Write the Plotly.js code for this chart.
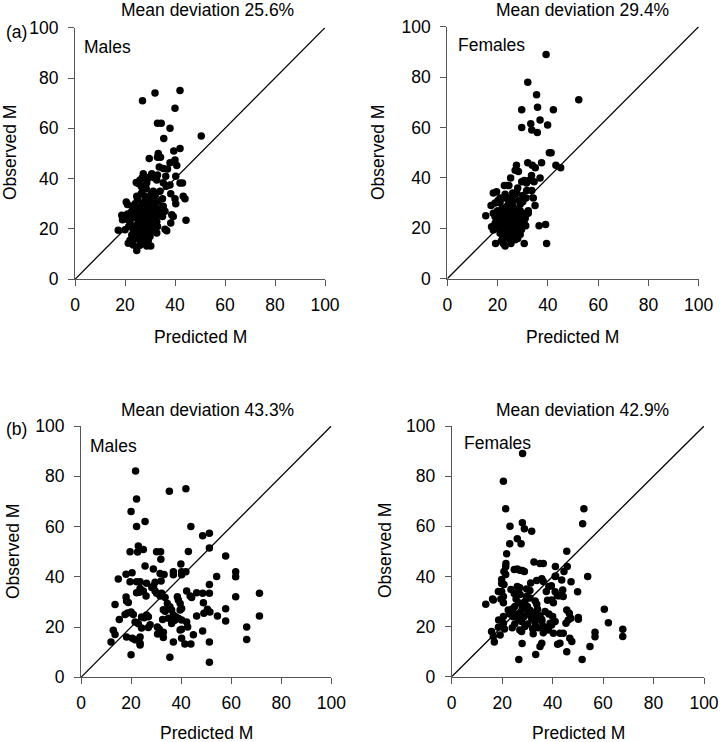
<!DOCTYPE html>
<html>
<head>
<meta charset="utf-8">
<script src="https://cdn.plot.ly/plotly-3.0.1.min.js"></script>
<style>
  html, body { margin: 0; padding: 0; background: #fff; }
  #plot { width: 720px; height: 742px; }
</style>
</head>
<body>
<div id="plot"></div>
<script>
// (a) males: predicted vs observed M
var aMalePred = [27,32,42,40,33,34.5,38,35.5,50.5,42,39.5,33.3,33,34.2,29.7,40,38,40.7,33.7,35.3,37,
  30.7,27.3,30,36.3,40.3,26,25.3,24.5,28.7,32.7,35.3,42,43,38,31.5,33,29,27,26.5,
  38.3,31.3,40,40.3,43.3,44,35,35.3,24.7,25,20.5,21,28,29.7,27,28.5,30.5,32,33.5,32,30.5,26.5,24,23,27,29,31,34,36.5,28,30,26,32.5,
  34,31.3,22.7,18.7,19,26,24,27.3,28.7,29.3,32.3,32.7,38.7,39.3,38.3,44.4,22,24,23.3,26,20,17.3,25,27,28,29,30,31,28.5,30,26.5,25.5,23,21,20.5,24.5,29.5,33.5,35,36,33,27.5,30.5,21.5,25,31.5,29,
  27.3,25.3,32.7,36,36.7,21.3,23.3,24.7,28.7,29.3,30.3,26,22.7,24,28,30,27,25,29,23.5,31,26,22];
var aMaleObs = [71,74,75,68,62,62,60,56,57,52,51,50,48.5,48.5,48,47.4,46.3,45.2,44.6,44,43.8,
  42,42,40.8,41,41,39.5,38.1,38.5,38.4,39.5,38.4,38.3,38.3,37.5,40.5,41.5,40,40.5,37,
  34,35,32,30,33,32,32,29,33,31.7,30.7,29.7,33,30.4,35.5,36,34,33,31,30,28.5,34,30,29,30,29,31.5,35,37,31.5,32.5,28.5,27.5,
  28,26.4,27,25.5,23.7,27.7,25,24.4,23.7,22.4,24.8,23,25.7,25,22.4,23.5,22.4,21,19.7,19.7,19.7,19.5,26,26.5,27,25.5,24,22,21,20,22.5,23.5,24.5,26,24,28,27.5,26,25,27,21,20.5,21.5,21,22,26,26.5,
  18.3,17.6,18.4,19.9,19.3,14.3,13.6,11.4,13.2,15.4,13.2,15.6,17.6,16,16.5,17,14.5,19,18.5,18.5,19,13.5,15.5];

// (a) females
var aFemPred = [39.3,32,35.5,52.3,29.6,35.9,42.2,36.9,33.2,29.6,39.9,33.6,35.8,40.6,41.3,37.5,32,43.2,45.1,27.5,27,28.3,33.8,35,36.9,33.5,30.6,29.6,25.2,22.7,23.9,32.5,34.5,31.5,31.6,33.6,27.6,27,18.3,19.6,20.2,21,22.5,23,25,26,28.6,30,31.3,34.2,34.9,32.2,32.2,17.4,15.3,18.3,19,17.6,18.3,31.2,36.5,39.1,29.5,28.3,19.2,22.3,23,25.3,30.6,39.5,
  20,21,21.5,22,22.5,23,23.5,24,24.5,25,25.5,26,26.5,27,27.5,28,28.5,29,29.5,30,22,21,20.5,23,24,25,26,27,28,26,24,23,22,21.5,25,26.5,27.5,29,24.5,23.5,22.5,20,19.5,24,26,28,30,31,30.5,29,27,25,23,21,19,21,19,26,24.5,28,30];
var aFemObs = [89,78,73,71,67,68,67,63,61.5,60,61,59,58,50,50,46,46,45,44,45,43,42.5,45,44,40,41,39,38.5,40,37,37,39,38.5,38,35,35,34,33.5,34,34.5,31,30,32,33.5,32,31,31,30.5,32,32,29,27,26,29,25,26,24.6,20.6,19.3,21,21,21.5,19.5,19,14,14,13,14,14,14,
  22,24,26,28,25,22,20,18,16,24,27,29,22,20,17,23,25,27,22,24,20,18,20,26.5,29,21,19,15.5,16,17,23,17,16,15,16,25,27.5,29.5,30.5,28,23,27,25,26,23,21,26,24,22.5,17.5,18,18.5,19,21,22,32,30,34,37,36,33];

// (b) males
var bMalePred = [21.8,22.2,20,25.6,22.2,35.3,41.9,43.9,48.6,51.3,51.3,42.9,19.6,22.9,22.6,24.9,30.2,31.8,31.9,25.6,28.9,39.9,54.2,57.8,61.8,61.8,14.9,18,20.4,19.6,22.2,23.6,31.6,33.2,36.9,36.9,40.2,40.2,41.9,26.2,29.6,32,
  13.6,15.3,12.9,13.6,12,18,18.2,18.9,20,20.9,17.6,18.6,18.2,20,20.5,21.6,23.6,23.6,23.6,21.6,22.9,24.2,24.2,22.2,23.3,23.6,24.9,26,26.2,26.9,25.2,27.6,26.9,29.6,30.2,32.2,31.6,33.6,28.3,29,30.5,31.3,30.6,32.9,32.9,32.9,33.6,32.6,34.5,35.5,36.2,36.9,37.8,37.3,34.9,36.2,37.6,38.9,35.5,36.9,38.5,38.9,39.6,40.2,39.6,40.2,40.2,39.6,40.2,42.2,42.6,41.5,43.9,42.2,43.6,44.2,44.9,46.2,46.2,48.6,48.9,49.1,48.6,51.3,51.3,50.5,51.5,51.3,51.3,54.5,57.8,57.8,61.8,66.2,66.2,71.3,71.3];
var bMaleObs = [82.1,71,66,62,60,74,75,60,56.3,57.3,51.5,50.1,50,52.2,49.9,50.9,50,50,47,44.3,43.1,45.1,40.1,48.3,42,40,39.1,41,41.6,38,38,38,41.3,40.9,42,40.8,42,40.8,42,37.4,37.8,38.3,
  29,23,18.7,17,14,32,30.4,29.8,26,25,25,25.6,16,9,15.5,14.9,13.5,12.9,16,22,21.3,24,19.6,33.6,33.8,35.3,34.3,32.4,24.8,24.1,23.7,20.9,19.8,34.3,33.4,33.4,32.4,31.8,35.7,36.3,20,19.1,17.2,17.9,15.8,26.9,26.3,23,29.4,28.1,26.8,24.8,24.1,22.8,23.5,21.4,22.8,23.5,8,14,32.1,30.8,29.4,27.4,26.8,22.8,19.1,18.8,15.5,22,20,13.3,13.3,34.3,32.4,31.8,16.9,33.6,24.4,33.4,29.7,25.5,18.4,36.9,33.4,27.1,26,14,6,24.4,27.3,22.4,32.1,20,15,33.4,24.4];

// (b) females
var bFemPred = [28.1,20.5,21.4,52.4,51.9,23.1,28,28.8,31.7,26,27.5,23,21.8,45.6,53.9,21.5,21.4,24.8,28,28.8,32.6,35,36.3,41.1,44.5,45.8,20.7,21.4,19.8,19.8,20.7,18.5,19.8,20.5,19.5,20.5,23.5,24.8,25.8,27.1,29.7,31,31.3,33.7,35.7,36.3,
  13.5,16.2,16.5,18.6,18.5,19.2,15.8,16.5,16.9,20.5,20.5,20.9,22.4,23.8,24.4,25.8,27.5,28.7,26.4,27.7,27.7,27,27.9,29.7,30.4,31.7,32.1,32.3,33.1,33.7,34,35,35.7,34.3,29.7,31,35.7,36.3,37,36.3,26.6,33.3,35,35.7,39.6,40.3,41,41.9,42.7,39,38.3,40.3,39.6,42.9,44.2,42.9,41,41.2,43.6,44,44.2,45.6,46.6,46.2,45.3,42,45.6,46.8,47.6,50.2,50.2,51.7,54.8,56.8,56.8,60.5,62.1,67.8,67.8,49.9,47.3,47.2,
  24,25,26.5,28,29,30,31,32.5,33,34.5,33,30,29,25,24,23,25.5,27,26,38,37,38.5,40,41,38.5,39.5,37.5,27,26];
var bFemObs = [89,78,67,67,61,60,61.4,59,58,55,53,53,49,50,40,45.2,43.9,42.8,42.4,42,45.8,45.2,45.2,44,42,44,42,40.8,38.8,37.2,36.8,34,34,32,31,29.5,34.8,33.2,33,32.8,35,34.4,37.4,38.4,39.1,38,
  28.9,31,30.6,22.6,19.7,16.6,18,16,13.8,24,21.3,19,26.6,26,23.9,25,26,24,23.3,22,18,18.6,13.2,27.1,25.1,23.1,19.1,17.1,30.2,28.9,26.9,24.3,22.2,19.5,32,31.4,22.8,20.1,19.5,17.5,6.9,8.9,12,13.3,30.6,29.5,33.9,32.3,32.3,21.3,18.6,17.3,20.6,17.3,17.3,13.3,40,40.2,38.6,34.6,32,26.6,25.3,22.6,21.3,12.9,10,15.3,14,22.9,23.6,6.9,12,17.7,15.9,26.9,21.5,18.9,16,33.9,37.9,23.3,
  27,28,29.5,28,30,28,26.5,25.5,24,23,21.5,21,20,21,19.5,25,31,35.5,36,30.5,26,25,24,22,36,36.3,34,42.5,43];

var diag = [0, 100];
var tickVals = [0, 20, 40, 60, 80, 100];

var panels = [
  {px: aMalePred, py: aMaleObs, x: [75, 325], y: [27.7, 279.3]},
  {px: aFemPred, py: aFemObs, x: [447.3, 698.7], y: [26.7, 278.7]},
  {px: bMalePred, py: bMaleObs, x: [81, 331.3], y: [426, 677.3]},
  {px: bFemPred, py: bFemObs, x: [451.7, 704], y: [426, 676.7]}
];

var W = 720, H = 742;
var font = 'Liberation Sans, Arial, sans-serif';
var fs = 17.5;
var data = [];
var layout = {
  width: W, height: H,
  margin: {l: 0, r: 0, t: 0, b: 0},
  paper_bgcolor: '#fff', plot_bgcolor: '#fff',
  showlegend: false,
  font: {family: font, size: fs, color: '#000'},
  annotations: []
};

panels.forEach(function (p, i) {
  var n = i === 0 ? '' : String(i + 1);
  data.push({
    x: p.px, y: p.py, xaxis: 'x' + n, yaxis: 'y' + n,
    type: 'scatter', mode: 'markers', cliponaxis: false,
    marker: {color: '#000', size: 7.5}
  });
  data.push({
    x: diag, y: diag, xaxis: 'x' + n, yaxis: 'y' + n,
    type: 'scatter', mode: 'lines', line: {color: '#000', width: 1.3}
  });
  var ax = {
    range: [0, 100], tickvals: tickVals, showgrid: false, zeroline: false,
    showline: true, linecolor: '#555', linewidth: 1,
    ticks: 'outside', ticklen: 6, tickcolor: '#555',
    tickfont: {family: font, size: fs, color: '#000'}
  };
  layout['xaxis' + n] = Object.assign({}, ax, {
    domain: [p.x[0] / W, p.x[1] / W], anchor: 'y' + n, ticklabelstandoff: 4
  });
  layout['yaxis' + n] = Object.assign({}, ax, {
    domain: [1 - p.y[1] / H, 1 - p.y[0] / H], anchor: 'x' + n, ticklabelstandoff: 6
  });
});

function note(text, x, y, opts) {
  layout.annotations.push(Object.assign({
    text: text, xref: 'paper', yref: 'paper', x: x / W, y: 1 - y / H,
    showarrow: false, xanchor: 'center', yanchor: 'middle',
    font: {family: font, size: fs, color: '#000'}
  }, opts || {}));
}

note('Mean deviation 25.6%', 208, 10);
note('Mean deviation 29.4%', 582, 10);
note('Mean deviation 43.3%', 208, 410);
note('Mean deviation 42.9%', 582, 410);
note('(a)', 4, 32, {xanchor: 'left'});
note('(b)', 4, 429, {xanchor: 'left'});
note('Males', 82, 47, {xanchor: 'left'});
note('Females', 456, 45, {xanchor: 'left'});
note('Males', 88, 446, {xanchor: 'left'});
note('Females', 462, 443, {xanchor: 'left'});
note('Predicted M', 200, 337);
note('Predicted M', 572, 337);
note('Predicted M', 206, 733);
note('Predicted M', 578, 733);
note('Observed M', 10, 153, {textangle: -90});
note('Observed M', 378, 153, {textangle: -90});
note('Observed M', 13, 552, {textangle: -90});
note('Observed M', 385, 551, {textangle: -90});

Plotly.newPlot('plot', data, layout, {staticPlot: true});
</script>
</body>
</html>
